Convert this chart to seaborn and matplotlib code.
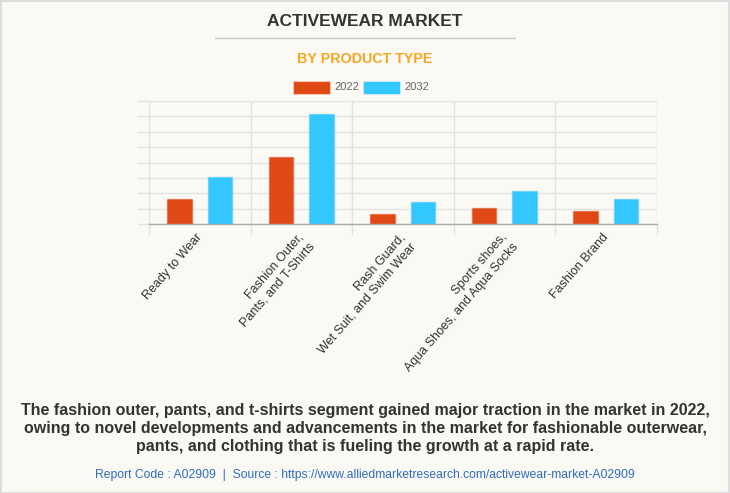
import matplotlib
matplotlib.use("Agg")
import matplotlib.pyplot as plt
import matplotlib.transforms as mtransforms
import seaborn as sns
import pandas as pd
from matplotlib.patches import Rectangle

categories = ["Ready to Wear", "Fashion Outer,\nPants, and T-Shirts",
              "Rash Guard,\nWet Suit, and Swim Wear",
              "Sports shoes,\nAqua Shoes, and Aqua Socks", "Fashion Brand"]
years = ["2022", "2032"]
values_2022 = [1.66, 4.37, 0.65, 1.04, 0.84]
values_2032 = [3.05, 7.16, 1.45, 2.16, 1.66]

df = pd.DataFrame({
    "category": categories * 2,
    "year": [years[0]] * 5 + [years[1]] * 5,
    "value": values_2022 + values_2032,
})

BG = "#FAF9F4"
RED = "#E04916"
BLUE = "#33C6FF"

sns.set_theme(style="white")
plt.rcParams["font.family"] = ["Liberation Sans", "DejaVu Sans"]

fig = plt.figure(figsize=(7.3, 4.93), dpi=100, facecolor=BG)
W, H = 730, 493
ax = fig.add_axes([149 / W, 1 - 224.3 / H, (656.5 - 149) / W, (224.3 - 101) / H])
ax.set_facecolor(BG)

sns.barplot(data=df, x="category", y="value", hue="year", order=categories,
            hue_order=years, palette=[RED, BLUE], width=0.8, gap=0.4,
            saturation=1, ax=ax, legend=False)
for p in ax.patches:
    fc = p.get_facecolor()
    p.set_edgecolor((fc[0], fc[1], fc[2], 0.45))
    p.set_linewidth(1.0)

ax.set_xlim(-0.5, 4.5)
ax.set_ylim(0, 8)
ax.set_yticks(range(0, 9))
ax.set_yticklabels([])
ax.tick_params(axis="y", length=9, color="#E3E3E1", width=1, left=True)
ax.grid(axis="y", color="#E3E3E1", linewidth=1)
ax.set_xticks([i - 0.5 for i in range(6)], minor=True)
ax.grid(axis="x", which="minor", color="#E3E3E1", linewidth=1)
ax.tick_params(axis="x", which="minor", length=8, color="#E3E3E1", width=1, bottom=True)
ax.tick_params(axis="x", which="major", length=0, pad=5)
ax.set_axisbelow(True)
for s in ["top", "right", "left"]:
    ax.spines[s].set_visible(False)
ax.spines["bottom"].set_color("#AAAAAA")
ax.spines["bottom"].set_linewidth(1)
ax.set_xlabel("")
ax.set_ylabel("")
offset = mtransforms.ScaledTranslation(-4 / 100, 0, fig.dpi_scale_trans)
for lbl in ax.get_xticklabels():
    lbl.set_rotation(49)
    lbl.set_ha("right")
    lbl.set_va("top")
    lbl.set_rotation_mode("anchor")
    lbl.set_multialignment("right")
    lbl.set_linespacing(1.3)
    lbl.set_fontsize(9)
    lbl.set_color("#333333")
    lbl.set_transform(lbl.get_transform() + offset)

# Title & subtitle
fig.text(365 / W, 1 - 21 / H, "ACTIVEWEAR MARKET", ha="center", va="center",
         fontsize=12.5, fontweight="bold", color="#333333")
fig.add_artist(plt.Line2D([215 / W, 515 / W], [1 - 37.5 / H] * 2, color="#C8C8C8", linewidth=1))
fig.text(365 / W, 1 - 59 / H, "BY PRODUCT TYPE", ha="center", va="center",
         fontsize=10.3, fontweight="bold", color="#F5A623")

# Legend
for x0, c, t in [(293, RED, years[0]), (363, BLUE, years[1])]:
    fig.add_artist(Rectangle((x0 / W, 1 - 93.5 / H), 37 / W, 13 / H, transform=fig.transFigure,
                             facecolor=c, edgecolor=(1, 1, 1, 0.4), linewidth=0.8))
    fig.text((x0 + 41) / W, 1 - 87 / H, t, ha="left", va="center", fontsize=8, color="#666666")

# Footer
fig.text(365 / W, 1 - 428 / H,
         "The fashion outer, pants, and t-shirts segment gained major traction in the market in 2022,\n"
         "owing to novel developments and advancements in the market for fashionable outerwear,\n"
         "pants, and clothing that is fueling the growth at a rapid rate.",
         ha="center", va="center", fontsize=11.5, fontweight="bold", color="#333333",
         linespacing=1.25)
fig.text(365 / W, 1 - 475 / H,
         "Report Code : A02909  |  Source : https://www.alliedmarketresearch.com/activewear-market-A02909",
         ha="center", va="center", fontsize=8.7, color="#2F6DBE")

# Border
fig.add_artist(Rectangle((0.5 / W, 0.5 / H), (W - 1.5) / W, (H - 1.5) / H, transform=fig.transFigure,
                         facecolor="none", edgecolor="#DDDDDD", linewidth=1.5))

fig.savefig("out.png", dpi=100, facecolor=BG)
